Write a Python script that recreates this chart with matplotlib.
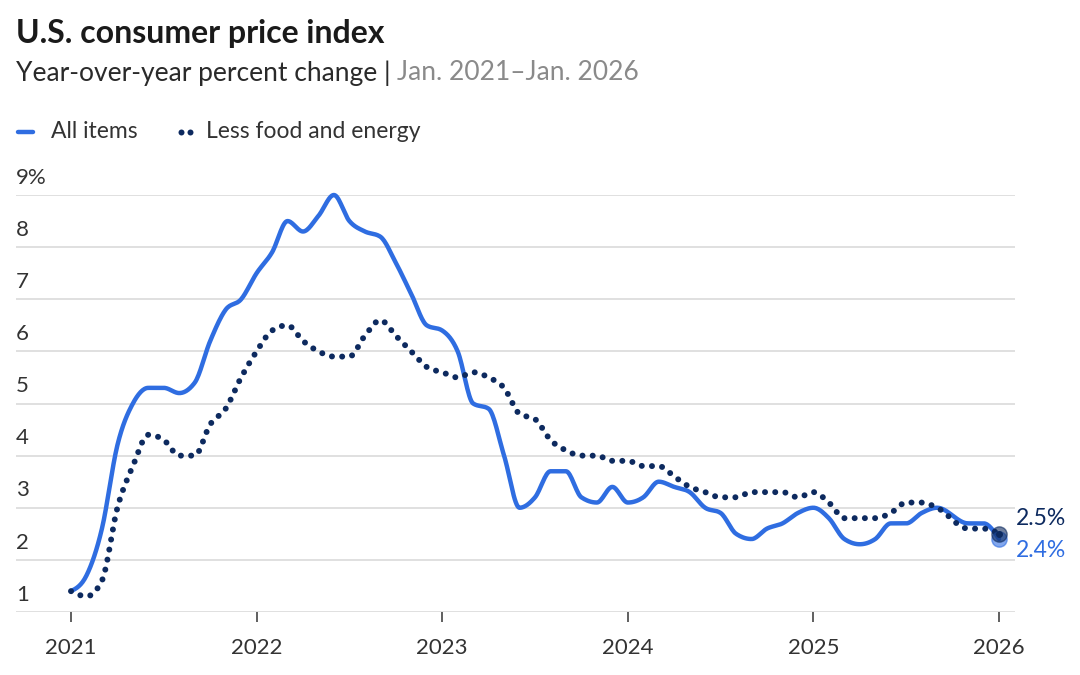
import matplotlib.pyplot as plt
import numpy as np

plt.rcParams['font.family'] = ['Lato', 'DejaVu Sans']

# Monthly CPI year-over-year change, Jan. 2021 - Jan. 2026 (Oct. 2025 not published)
all_items = [1.4, 1.7, 2.6, 4.2, 5.0, 5.3, 5.3, 5.2, 5.4, 6.2, 6.8, 7.0,
             7.5, 7.9, 8.5, 8.3, 8.6, 9.0, 8.5, 8.3, 8.2, 7.7, 7.1, 6.5,
             6.4, 6.0, 5.0, 4.9, 4.0, 3.0, 3.2, 3.7, 3.7, 3.2, 3.1, 3.4,
             3.1, 3.2, 3.5, 3.4, 3.3, 3.0, 2.9, 2.5, 2.4, 2.6, 2.7, 2.9,
             3.0, 2.8, 2.4, 2.3, 2.4, 2.7, 2.7, 2.9, 3.0, np.nan, 2.7, 2.7,
             2.4]
core = [1.4, 1.3, 1.6, 3.0, 3.8, 4.4, 4.3, 4.0, 4.0, 4.6, 4.9, 5.5,
        6.0, 6.4, 6.5, 6.2, 6.0, 5.9, 5.9, 6.3, 6.6, 6.3, 6.0, 5.7,
        5.6, 5.5, 5.6, 5.5, 5.3, 4.8, 4.7, 4.3, 4.1, 4.0, 4.0, 3.9,
        3.9, 3.8, 3.8, 3.6, 3.4, 3.3, 3.2, 3.2, 3.3, 3.3, 3.3, 3.2,
        3.3, 3.1, 2.8, 2.8, 2.8, 2.9, 3.1, 3.1, 3.0, np.nan, 2.6, 2.6,
        2.5]
years = [2021, 2022, 2023, 2024, 2025, 2026]
y_ticks = [1, 2, 3, 4, 5, 6, 7, 8, 9]

dates = 2021 + np.arange(len(all_items)) / 12

BLUE = '#2f6de1'
NAVY = '#0d2a5f'


def monotone_curve(x, y, steps=16):
    # monotone cubic (like d3.curveMonotoneX) for drawing a smooth line
    x = np.asarray(x, float)
    y = np.asarray(y, float)
    ok = ~np.isnan(y)
    x, y = x[ok], y[ok]
    h = np.diff(x)
    s = np.diff(y) / h
    t = np.zeros_like(y)
    for i in range(1, len(y) - 1):
        p = (s[i - 1] * h[i] + s[i] * h[i - 1]) / (h[i - 1] + h[i])
        t[i] = (np.sign(s[i - 1]) + np.sign(s[i])) * min(abs(s[i - 1]), abs(s[i]), 0.5 * abs(p))
    t[0] = (3 * s[0] - t[1]) / 2
    t[-1] = (3 * s[-1] - t[-2]) / 2
    xs, ys = [], []
    u = np.linspace(0, 1, steps, endpoint=False)
    for i in range(len(h)):
        h00 = 2 * u**3 - 3 * u**2 + 1
        h10 = u**3 - 2 * u**2 + u
        h01 = -2 * u**3 + 3 * u**2
        h11 = u**3 - u**2
        xs.append(x[i] + u * h[i])
        ys.append(h00 * y[i] + h10 * h[i] * t[i] + h01 * y[i + 1] + h11 * h[i] * t[i + 1])
    xs.append([x[-1]])
    ys.append([y[-1]])
    return np.concatenate(xs), np.concatenate(ys)


fig = plt.figure(figsize=(10.8, 6.75), dpi=100)
ax = fig.add_axes([16 / 1080, 1 - 612 / 675, 999 / 1080, 417 / 675])
ax.set_xlim(2021 - 55 / 185.6, 2021 + 944 / 185.6)
ax.set_ylim(1, 9)

for v in y_ticks:
    ax.axhline(v, color='#dadada', lw=1.2, zorder=0)
    lab = f'{v}%' if v == 9 else str(v)
    ax.text(0, v + 0.14, lab, transform=ax.get_yaxis_transform(), ha='left', va='bottom',
            fontsize=16, color='#333333')

cx, cy = monotone_curve(dates, all_items)
ax.plot(cx, cy, color=BLUE, lw=3.2, solid_capstyle='round', clip_on=False, zorder=3)
kx, ky = monotone_curve(dates, core)
ax.plot(kx, ky, color=NAVY, lw=4.3, linestyle=(0, (0.01, 1.7)), dash_capstyle='round',
        clip_on=False, zorder=4)

# end markers and labels
ax.plot(dates[-1], all_items[-1], 'o', ms=11, color=BLUE, alpha=0.6, clip_on=False, zorder=5)
ax.plot(dates[-1], core[-1], 'o', ms=11, color=NAVY, alpha=0.6, clip_on=False, zorder=6)
ax.plot(dates[-1], core[-1], 'o', ms=4, color=NAVY, clip_on=False, zorder=7)
ax.annotate(f'{core[-1]}%', (dates[-1], core[-1]), xytext=(12, 11), textcoords='offset points',
            ha='left', va='center', fontsize=16.5, color=NAVY, annotation_clip=False)
ax.annotate(f'{all_items[-1]}%', (dates[-1], all_items[-1]), xytext=(12, -8), textcoords='offset points',
            ha='left', va='center', fontsize=16.5, color=BLUE, annotation_clip=False)

for side in ax.spines.values():
    side.set_visible(False)
ax.set_yticks([])
ax.set_xticks(years)
ax.set_xticklabels([str(y) for y in years], fontsize=16, color='#333333')
ax.tick_params(axis='x', length=7, width=1.2, color='#444444', pad=12)

# title, subtitle, legend
fig.text(16 / 1080, 1 - 33 / 675, 'U.S. consumer price index', fontsize=23, fontweight='bold',
         color='#1a1a1a', va='center', ha='left')
t1 = fig.text(16 / 1080, 1 - 73 / 675, 'Year-over-year percent change | ', fontsize=19,
              color='#2a2a2a', va='center', ha='left')
fig.canvas.draw()
bb = t1.get_window_extent()
fig.text(bb.x1 / 1080, 1 - 73 / 675, 'Jan. 2021\u2013Jan. 2026', fontsize=19, color='#8a8a8a',
         va='center', ha='left')

ly = 1 - 132 / 675
fig.add_artist(plt.Line2D([18 / 1080, 33 / 1080], [ly, ly], color=BLUE, lw=3.2, solid_capstyle='round'))
fig.text(51 / 1080, ly, 'All items', fontsize=16.5, color='#333333', va='center', ha='left')
fig.add_artist(plt.Line2D([181 / 1080, 190 / 1080], [ly, ly], color=NAVY, lw=0,
                          marker='o', ms=4.3, markeredgewidth=0))
fig.text(206 / 1080, ly, 'Less food and energy', fontsize=16.5, color='#333333', va='center', ha='left')

fig.savefig('out.png', dpi=100)
